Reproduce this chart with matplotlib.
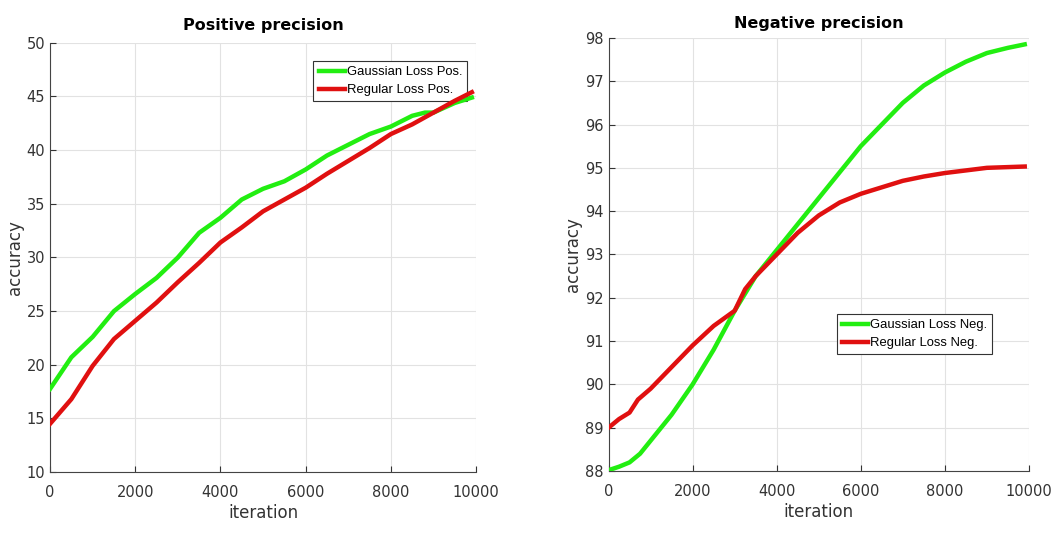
import matplotlib
matplotlib.use("Agg")
import matplotlib.pyplot as plt

iters_pos = [0, 500, 1000, 1500, 2000, 2500, 3000, 3500, 4000, 4500, 5000, 5500,
             6000, 6500, 7000, 7500, 8000, 8500, 8800, 9000, 9500, 9900]
gauss_pos = [17.75, 20.7, 22.6, 25.0, 26.6, 28.1, 30.0, 32.3, 33.7, 35.4, 36.4, 37.1,
             38.2, 39.5, 40.5, 41.5, 42.2, 43.2, 43.5, 43.5, 44.4, 44.9]
iters_pos_r = [0, 500, 1000, 1500, 2000, 2500, 3000, 3500, 4000, 4500, 5000, 5500,
               6000, 6500, 7000, 7500, 8000, 8500, 9000, 9500, 9900]
reg_pos = [14.5, 16.8, 19.9, 22.4, 24.1, 25.8, 27.7, 29.5, 31.4, 32.8, 34.3, 35.4,
           36.5, 37.8, 39.0, 40.2, 41.5, 42.4, 43.5, 44.6, 45.4]

iters_neg_g = [0, 250, 500, 750, 1000, 1500, 2000, 2500, 3000, 3500, 4000, 4500, 5000,
               5500, 6000, 6500, 7000, 7500, 8000, 8500, 9000, 9500, 9900]
gauss_neg = [88.02, 88.1, 88.2, 88.4, 88.7, 89.3, 90.0, 90.8, 91.7, 92.5, 93.1, 93.7, 94.3,
             94.9, 95.5, 96.0, 96.5, 96.9, 97.2, 97.45, 97.65, 97.77, 97.85]
iters_neg_r = [0, 250, 500, 700, 1000, 1500, 2000, 2500, 3000, 3250, 3500, 4000, 4500,
               5000, 5500, 6000, 6500, 7000, 7500, 8000, 8500, 9000, 9900]
reg_neg = [89.0, 89.2, 89.35, 89.65, 89.9, 90.4, 90.9, 91.35, 91.7, 92.2, 92.5, 93.0, 93.5,
           93.9, 94.2, 94.4, 94.55, 94.7, 94.8, 94.88, 94.94, 95.0, 95.03]

plt.rcParams['font.family'] = ['DejaVu Sans']
fig = plt.figure(figsize=(10.51, 5.49), dpi=100)
ax1 = fig.add_axes([0.0476, 0.140, 0.4054, 0.782])
ax2 = fig.add_axes([0.579, 0.142, 0.400, 0.789])

GREEN = '#22ee11'
RED = '#e01010'

def style(ax, title, ylim, yticks, tpad):
    ax.set_xlim(0, 10000)
    ax.set_ylim(*ylim)
    ax.set_xticks([0, 2000, 4000, 6000, 8000, 10000])
    ax.set_yticks(yticks)
    ax.grid(True, color='#e2e2e2', linewidth=0.8)
    ax.set_axisbelow(True)
    for s in ['top', 'right']:
        ax.spines[s].set_visible(False)
    for s in ['left', 'bottom']:
        ax.spines[s].set_color('#444444')
    ax.tick_params(direction='in', labelsize=10.5, colors='#333333', length=4)
    ax.tick_params(axis='x', pad=9)
    ax.set_title(title, fontsize=11.5, fontweight='bold', pad=tpad)
    ax.set_xlabel('iteration', fontsize=12, color='#333333', labelpad=3)
    ax.set_ylabel('accuracy', fontsize=12, color='#333333', labelpad=2)

def legend(ax, anchor):
    leg = ax.legend(loc='upper left', bbox_to_anchor=anchor,
                    prop={'family': 'Liberation Sans', 'size': 9.4},
                    fancybox=False, edgecolor='#333333', framealpha=1,
                    handlelength=2.0, handletextpad=0.15, borderpad=0.4,
                    labelspacing=0.45, borderaxespad=0)
    leg.get_frame().set_linewidth(0.8)
    leg.set_zorder(1.5)
    return leg

ax1.plot(iters_pos, gauss_pos, color=GREEN, lw=3.2, label='Gaussian Loss Pos.', zorder=3)
ax1.plot(iters_pos_r, reg_pos, color=RED, lw=3.2, label='Regular Loss Pos.', zorder=3)
style(ax1, 'Positive precision', (10, 50), list(range(10, 51, 5)), 9)
legend(ax1, (0.618, 0.958))

ax2.plot(iters_neg_g, gauss_neg, color=GREEN, lw=3.2, label='Gaussian Loss Neg.', zorder=3)
ax2.plot(iters_neg_r, reg_neg, color=RED, lw=3.2, label='Regular Loss Neg.', zorder=3)
style(ax2, 'Negative precision', (88, 98), list(range(88, 99)), 7)
legend(ax2, (0.543, 0.363))

fig.savefig('out.png', dpi=100)
